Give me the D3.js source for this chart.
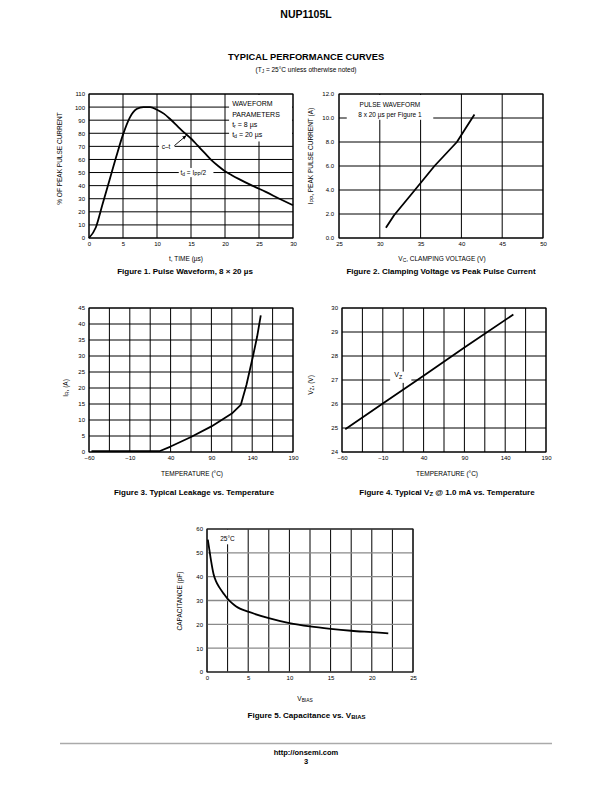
<!DOCTYPE html>
<html><head><meta charset="utf-8">
<script src="https://cdn.jsdelivr.net/npm/d3@7"></script>
<style>
body{margin:0;background:#fff}
svg{display:block;font-family:"Liberation Sans",Arial,Helvetica,sans-serif}
</style></head><body>
<svg id="page" width="612" height="792"></svg>
<script>
// ---------- DATA ----------
// Figure 1: pulse waveform
const fig1Time = [0,1,2,3,4,5,6,7,8,9,10,11,12,13,14,15,16,17,18,19,20,21,22,24,26,28,30];
const fig1Pct  = [0,8,26,44,62,79,92,98.5,100,100,98,95,90.5,85.5,80.5,76,70.5,65,59.5,55,51,48,45.2,40,35.2,30,25];
const fig1XTicks = [0,5,10,15,20,25,30];
const fig1YTicks = [0,10,20,30,40,50,60,70,80,90,100,110];
// Figure 2: clamping voltage vs peak pulse current
const fig2Vc  = [30.75,31.75,34.3,36.7,39.45,40.5,41.6];
const fig2Ipp = [0.85,1.9,4.0,6.0,8.0,9.12,10.3];
const fig2XTicks = [25,30,35,40,45,50];
const fig2YTicks = [0,2,4,6,8,10,12];
// Figure 3: leakage vs temperature
const fig3Temp = [-57,27,40,65,90,115,126,133,141,146,150.5];
const fig3Ir   = [0.3,0.3,1.7,4.7,8.0,12.0,14.7,21,30,36,42.7];
const tempGrid = [-60,-35,-10,15,40,65,90,115,140,165,190];
const tempTicks = [-60,-10,40,90,140,190];
const fig3YTicks = [0,5,10,15,20,25,30,35,40,45];
// Figure 4: Vz vs temperature
const fig4Temp = [-56,-10,40,90,150];
const fig4Vz   = [24.95,26.02,27.18,28.35,29.73];
const fig4YTicks = [24,25,26,27,28,29,30];
// Figure 5: capacitance vs Vbias
const fig5Vbias = [0.1,0.3,0.5,0.8,1.1,1.5,2,2.5,3,3.5,4,5,7.5,10,12.5,15,17.5,20,22];
const fig5Cap   = [55.5,51,46.5,41,38,35.5,33,30.7,29,27.6,26.6,25.3,22.6,20.5,19.1,18.1,17.3,16.7,16.2];
const fig5XGrid = [0,2.5,5,7.5,10,12.5,15,17.5,20,22.5,25];
const fig5XTicks = [0,5,10,15,20,25];
const fig5YTicks = [0,10,20,30,40,50,60];

// ---------- DRAWING ----------
const svg = d3.select('#page');
const minus = v => String(v).replace('-', '\u2212');

svg.append('defs').append('marker').attr('id','arr').attr('viewBox','0 0 10 10')
  .attr('refX',9).attr('refY',5).attr('markerWidth',5).attr('markerHeight',5).attr('orient','auto')
  .append('path').attr('d','M0,1 L10,5 L0,9 z').attr('fill','#000');

function addText(parent, x, y, parts, opts={}) {
  const size = opts.size || 6.5;
  const t = parent.append('text').attr('x',x).attr('y',y)
    .attr('font-size', size).attr('fill','#000')
    .attr('text-anchor', opts.anchor || 'start')
    .attr('font-weight', opts.bold ? 'bold' : null);
  if (opts.rotate) t.attr('transform', `rotate(-90,${x},${y})`);
  let pending = 0;
  parts.forEach(p => {
    if (typeof p === 'string') {
      const s = t.append('tspan').attr('font-size', size).text(p);
      if (pending) s.attr('dy', pending);
      pending = 0;
    } else {
      const d = p.sub * 0.35;
      t.append('tspan').attr('font-size', size*0.75).attr('dy', d + pending).text(p.t);
      pending = -d;
    }
  });
  return t;
}

function chart(cfg) {
  const g = svg.append('g');
  const x = d3.scaleLinear().domain(cfg.xDomain).range([cfg.left, cfg.right]);
  const y = d3.scaleLinear().domain(cfg.yDomain).range([cfg.bottom, cfg.top]);
  g.selectAll('line.vg').data(cfg.xGrid).join('line').attr('class','vg')
    .attr('x1',d=>x(d)).attr('x2',d=>x(d)).attr('y1',cfg.top).attr('y2',cfg.bottom)
    .attr('stroke', cfg.vColor || '#000').attr('stroke-width', cfg.vWidth || 1);
  g.selectAll('line.hg').data(cfg.yGrid).join('line').attr('class','hg')
    .attr('y1',d=>y(d)).attr('y2',d=>y(d)).attr('x1',cfg.left).attr('x2',cfg.right)
    .attr('stroke', cfg.hColor || '#000').attr('stroke-width', cfg.hWidth || 1);
  const ann = g.append('g');
  g.append('rect').attr('x',cfg.left).attr('y',cfg.top).attr('width',cfg.right-cfg.left)
    .attr('height',cfg.bottom-cfg.top).attr('fill','none').attr('stroke','#000').attr('stroke-width',1);
  const xa = d3.axisBottom(x).tickValues(cfg.xTicks).tickSize(0).tickPadding(4).tickFormat(cfg.xFmt || (d=>d));
  g.append('g').attr('transform',`translate(0,${cfg.bottom})`).call(xa)
    .attr('font-size',6).attr('font-family',null)
    .call(s=>s.select('.domain').remove())
    .call(s=>s.selectAll('text').attr('font-size',6));
  const ya = d3.axisLeft(y).tickValues(cfg.yTicks).tickSize(0).tickPadding(cfg.yPad || 4).tickFormat(cfg.yFmt || (d=>d));
  g.append('g').attr('transform',`translate(${cfg.left},0)`).call(ya)
    .attr('font-size',6).attr('font-family',null)
    .call(s=>s.select('.domain').remove())
    .call(s=>s.selectAll('text').attr('font-size',6));
  const line = d3.line().x(d=>x(d[0])).y(d=>y(d[1])).curve(cfg.curve || d3.curveLinear);
  g.append('path').datum(d3.zip(cfg.xs, cfg.ys)).attr('d', line)
    .attr('fill','none').attr('stroke','#000').attr('stroke-width',1.8).attr('stroke-linejoin','round');
  const top = g.append('g');
  return {x, y, g, ann, top};
}

// Header
addText(svg, 306, 18, ['NUP1105L'], {size:10.5, bold:true, anchor:'middle'});
addText(svg, 306, 60, ['TYPICAL PERFORMANCE CURVES'], {size:9.3, bold:true, anchor:'middle'});
addText(svg, 306, 71.5, ['(T', {t:'J', sub:4}, ' = 25\u00B0C unless otherwise noted)'], {size:6.5, anchor:'middle'});

// Figure 1
{
  const c = chart({left:89, right:293, top:94, bottom:238, xDomain:[0,30], yDomain:[0,110],
    xGrid:fig1XTicks, yGrid:fig1YTicks, xTicks:fig1XTicks, yTicks:fig1YTicks,
    xs:fig1Time, ys:fig1Pct, curve:d3.curveMonotoneX});
  const {x,y,ann,top} = c;
  ann.append('rect').attr('x',x(20.6)).attr('y',y(110)+1).attr('width',x(30)-x(20.6)-1).attr('height',y(74.5)-y(110))
    .attr('fill','#fff');
  ann.append('rect').attr('x',x(10.3)).attr('y',y(73.5)).attr('width',x(12.6)-x(10.3)).attr('height',y(66.5)-y(73.5)).attr('fill','#fff');
  ann.append('rect').attr('x',x(13.2)).attr('y',y(53.5)).attr('width',x(18.3)-x(13.2)).attr('height',y(46.5)-y(53.5)).attr('fill','#fff');
  addText(top, x(21.05), y(100.5), ['WAVEFORM'], {size:7});
  addText(top, x(21.05), y(92.8), ['PARAMETERS'], {size:7});
  addText(top, x(21.05), y(84.8), ['t', {t:'r', sub:4}, ' = 8 \u00B5s'], {size:7});
  addText(top, x(21.05), y(77.2), ['t', {t:'d', sub:4}, ' = 20 \u00B5s'], {size:7});
  addText(top, x(10.7), y(68.2), ['c\u2013t'], {size:6.5});
  top.append('line').attr('x1',x(12.55)).attr('y1',y(70.5)).attr('x2',x(14.3)).attr('y2',y(78.2))
    .attr('stroke','#000').attr('stroke-width',0.9).attr('marker-end','url(#arr)');
  addText(top, x(13.45), y(48.2), ['t', {t:'d', sub:4}, ' = I', {t:'PP', sub:4}, '/2'], {size:6.5});
  addText(svg, 61.5, 158.5, ['% OF PEAK PULSE CURRENT'], {size:6.5, anchor:'middle', rotate:true});
  addText(svg, 186, 260.5, ['t, TIME (\u00B5s)'], {size:6.5, anchor:'middle'});
  addText(svg, 185, 273.5, ['Figure 1. Pulse Waveform, 8 \u00D7 20 \u00B5s'], {size:8, bold:true, anchor:'middle'});
}

// Figure 2
{
  const c = chart({left:339, right:543, top:94, bottom:238, xDomain:[25,50], yDomain:[0,12],
    xGrid:fig2XTicks, yGrid:fig2YTicks, xTicks:fig2XTicks, yTicks:fig2YTicks, yFmt:d3.format('.1f'), yPad:5,
    xs:fig2Vc, ys:fig2Ipp});
  const {x,y,ann,top} = c;
  ann.append('rect').attr('x',x(25.95)).attr('y',y(12)+1).attr('width',x(36.55)-x(25.95)).attr('height',y(9.85)-y(12)-1).attr('fill','#fff');
  addText(top, x(31.24), y(10.95), ['PULSE WAVEFORM'], {size:6.5, anchor:'middle'});
  addText(top, x(31.24), y(10.07), ['8 x 20 \u00B5s per Figure 1'], {size:6.5, anchor:'middle'});
  addText(svg, 313, 156, ['I', {t:'PP', sub:4}, ', PEAK PULSE CURRENT (A)'], {size:6.5, anchor:'middle', rotate:true});
  addText(svg, 442, 260.5, ['V', {t:'C', sub:4}, ', CLAMPING VOLTAGE (V)'], {size:6.5, anchor:'middle'});
  addText(svg, 441, 273.5, ['Figure 2. Clamping Voltage vs Peak Pulse Current'], {size:8, bold:true, anchor:'middle'});
}

// Figure 3
{
  chart({left:89, right:293, top:308, bottom:452, xDomain:[-60,190], yDomain:[0,45],
    xGrid:tempGrid, yGrid:fig3YTicks, xTicks:tempTicks, yTicks:fig3YTicks, xFmt:minus,
    xs:fig3Temp, ys:fig3Ir});
  addText(svg, 68, 388, ['I', {t:'R', sub:4}, ', (A)'], {size:6.5, anchor:'middle', rotate:true});
  addText(svg, 192, 476, ['TEMPERATURE (\u00B0C)'], {size:6.5, anchor:'middle'});
  addText(svg, 194, 494.5, ['Figure 3. Typical Leakage vs. Temperature'], {size:8, bold:true, anchor:'middle'});
}

// Figure 4
{
  const c = chart({left:342, right:546, top:308, bottom:452, xDomain:[-60,190], yDomain:[24,30],
    xGrid:tempGrid, yGrid:fig4YTicks, xTicks:tempTicks, yTicks:fig4YTicks, xFmt:minus,
    xs:fig4Temp, ys:fig4Vz});
  const {x,y,ann,top} = c;
  ann.append('rect').attr('x',x(-1)).attr('y',y(27.35)).attr('width',x(25)-x(-1)).attr('height',y(26.88)-y(27.35)).attr('fill','#fff');
  addText(top, x(4), y(27.12), ['V', {t:'Z', sub:4}], {size:7});
  addText(svg, 313, 385, ['V', {t:'Z', sub:4}, ', (V)'], {size:6.5, anchor:'middle', rotate:true});
  addText(svg, 447, 476, ['TEMPERATURE (\u00B0C)'], {size:6.5, anchor:'middle'});
  addText(svg, 447, 495, ['Figure 4. Typical V', {t:'Z', sub:4}, ' @ 1.0 mA vs. Temperature'], {size:8, bold:true, anchor:'middle'});
}

// Figure 5
{
  const c = chart({left:207, right:413, top:529, bottom:672, xDomain:[0,25], yDomain:[0,60],
    xGrid:fig5XGrid, yGrid:fig5YTicks, xTicks:fig5XTicks, yTicks:fig5YTicks,
    hColor:'#8a8a8a', hWidth:1.4,
    xs:fig5Vbias, ys:fig5Cap, curve:d3.curveMonotoneX});
  const {x,y,ann,top} = c;
  ann.append('rect').attr('x',x(1.3)).attr('y',y(60)+1).attr('width',x(3.9)-x(1.3)).attr('height',y(54)-y(60)).attr('fill','#fff');
  addText(top, x(1.6), y(55), ['25\u00B0C'], {size:6.5});
  addText(svg, 182, 601, ['CAPACITANCE (pF)'], {size:6.5, anchor:'middle', rotate:true});
  addText(svg, 305, 701, ['V', {t:'BIAS', sub:4}], {size:6.5, anchor:'middle'});
  addText(svg, 306.5, 717.5, ['Figure 5. Capacitance vs. V', {t:'BIAS', sub:4}], {size:8, bold:true, anchor:'middle'});
}

// Footer
svg.append('line').attr('x1',60).attr('x2',552).attr('y1',743.5).attr('y2',743.5).attr('stroke','#aaa').attr('stroke-width',1.5);
addText(svg, 306, 755, ['http://onsemi.com'], {size:7.5, bold:true, anchor:'middle'});
addText(svg, 306, 764, ['3'], {size:7.5, bold:true, anchor:'middle'});
</script>
</body></html>
